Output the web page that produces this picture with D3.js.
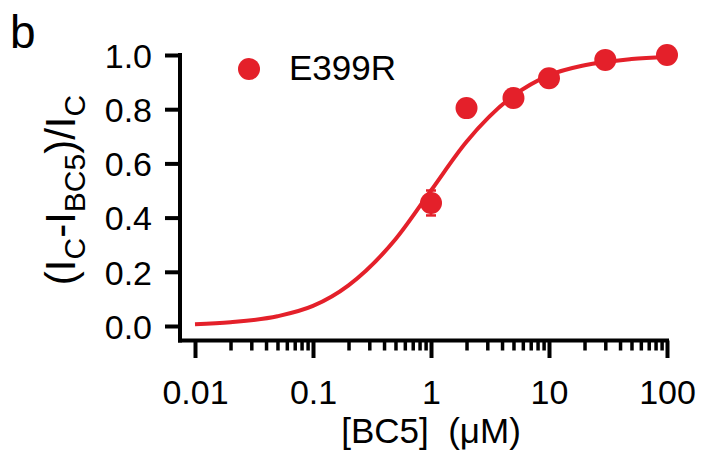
<!DOCTYPE html>
<html>
<head>
<meta charset="utf-8">
<script src="https://cdn.jsdelivr.net/npm/d3@7"></script>
<style>
  html, body { margin: 0; padding: 0; background: #fff; }
  svg { display: block; font-family: "Liberation Sans", Arial, sans-serif; }
</style>
</head>
<body>
<div id="chart"></div>
<script>
'use strict';

const WIDTH = 702;
const HEIGHT = 450;
const RED = '#e4202a';

// measured points
const concentrations = [1, 2, 5, 10, 30, 100];
const responses = [0.454, 0.804, 0.841, 0.914, 0.982, 1.0];
const errors = [0.046, 0, 0, 0, 0, 0];

// fitted curve
const fitConc = [0.01, 0.02, 0.05, 0.1, 0.2, 0.5, 1, 2, 5, 10, 20, 50, 100];
const fitResp = [0.006, 0.014, 0.036, 0.074, 0.15, 0.32, 0.50, 0.68, 0.85, 0.925, 0.962, 0.985, 0.994];

const xTicks = [0.01, 0.1, 1, 10, 100];
const xTickLabels = ['0.01', '0.1', '1', '10', '100'];
const yTicks = [0, 0.2, 0.4, 0.6, 0.8, 1.0];

const seriesName = 'E399R';

const svg = d3.select('#chart').append('svg')
    .attr('width', WIDTH)
    .attr('height', HEIGHT);

const x = d3.scaleLog().domain([0.01, 100]).range([195, 667]);
const y = d3.scaleLinear().domain([0, 1]).range([326, 55]);

const axisX = 180;   // y axis line position
const axisY = 340.5; // x axis line position

// minor ticks for the log axis (2..9 in every decade)
const minorTicks = [];
for (let d = 0; d < xTicks.length - 1; d++) {
    for (let m = 2; m <= 9; m++) {
        minorTicks.push(xTicks[d] * m);
    }
}

// ---- y axis
const gy = svg.append('g')
    .attr('transform', 'translate(' + axisX + ',0)')
    .call(d3.axisLeft(y).tickValues(yTicks).tickFormat(d3.format('.1f')).tickSize(15).tickPadding(13));
gy.select('.domain').remove();
gy.selectAll('line').attr('stroke', '#000').attr('stroke-width', 4);
gy.selectAll('text').attr('font-size', 34).attr('fill', '#000').attr('dy', '0.36em');

// ---- x axis, minor then major
const gxMinor = svg.append('g')
    .attr('transform', 'translate(0,' + axisY + ')')
    .call(d3.axisBottom(x).tickValues(minorTicks).tickSize(10).tickFormat(''));
gxMinor.select('.domain').remove();
gxMinor.selectAll('line').attr('stroke', '#000').attr('stroke-width', 3.5);

const gx = svg.append('g')
    .attr('transform', 'translate(0,' + axisY + ')')
    .call(d3.axisBottom(x).tickValues(xTicks).tickSize(17.5).tickPadding(0)
        .tickFormat((d, i) => xTickLabels[i]));
gx.select('.domain').remove();
gx.selectAll('line').attr('stroke', '#000').attr('stroke-width', 4);
gx.selectAll('text')
    .attr('font-size', 34)
    .attr('fill', '#000')
    .attr('dy', null)
    .attr('y', 63.5);

// axis lines
svg.append('line')
    .attr('x1', axisX).attr('x2', axisX)
    .attr('y1', y(1) - 2).attr('y2', axisY + 2)
    .attr('stroke', '#000').attr('stroke-width', 4);
svg.append('line')
    .attr('x1', axisX - 2).attr('x2', x(100) + 2)
    .attr('y1', axisY).attr('y2', axisY)
    .attr('stroke', '#000').attr('stroke-width', 4);

// ---- fit curve
const line = d3.line()
    .x(d => x(d[0]))
    .y(d => y(d[1]))
    .curve(d3.curveMonotoneX);

svg.append('path')
    .datum(fitConc.map((c, i) => [c, fitResp[i]]))
    .attr('d', line)
    .attr('fill', 'none')
    .attr('stroke', RED)
    .attr('stroke-width', 4);

// ---- error bars
const pts = concentrations.map((c, i) => ({c: c, v: responses[i], e: errors[i]}));

const eb = svg.append('g').selectAll('g')
    .data(pts.filter(p => p.e > 0))
    .enter().append('g');
eb.append('line')
    .attr('x1', d => x(d.c)).attr('x2', d => x(d.c))
    .attr('y1', d => y(d.v - d.e)).attr('y2', d => y(d.v + d.e))
    .attr('stroke', RED).attr('stroke-width', 2.5);
eb.selectAll('.cap')
    .data(d => [d.v - d.e, d.v + d.e].map(v => ({c: d.c, v: v})))
    .enter().append('line')
    .attr('x1', d => x(d.c) - 5).attr('x2', d => x(d.c) + 5)
    .attr('y1', d => y(d.v)).attr('y2', d => y(d.v))
    .attr('stroke', RED).attr('stroke-width', 2.5);

// ---- points
svg.append('g').selectAll('circle')
    .data(pts)
    .enter().append('circle')
    .attr('cx', d => x(d.c))
    .attr('cy', d => y(d.v))
    .attr('r', 11)
    .attr('fill', RED);

// ---- legend
svg.append('circle')
    .attr('cx', 249).attr('cy', 69).attr('r', 11)
    .attr('fill', RED);
svg.append('text')
    .attr('x', 289).attr('y', 80)
    .attr('font-size', 35)
    .text(seriesName);

// ---- axis titles
svg.append('text')
    .attr('x', x(1)).attr('y', 443)
    .attr('text-anchor', 'middle')
    .attr('font-size', 35)
    .text('[BC5]\u00a0\u00a0(\u03bcM)');

const yt = svg.append('text')
    .attr('transform', 'translate(75,190) rotate(-90)')
    .attr('text-anchor', 'middle')
    .attr('font-size', 42);
yt.append('tspan').text('(I');
yt.append('tspan').attr('font-size', 30).attr('dy', 10).text('C');
yt.append('tspan').attr('dy', -10).text('-I');
yt.append('tspan').attr('font-size', 30).attr('dy', 10).text('BC5');
yt.append('tspan').attr('dy', -10).text(')/I');
yt.append('tspan').attr('font-size', 30).attr('dy', 10).text('C');

// panel letter
svg.append('text')
    .attr('x', 10).attr('y', 48)
    .attr('font-size', 46)
    .text('b');
</script>
</body>
</html>
